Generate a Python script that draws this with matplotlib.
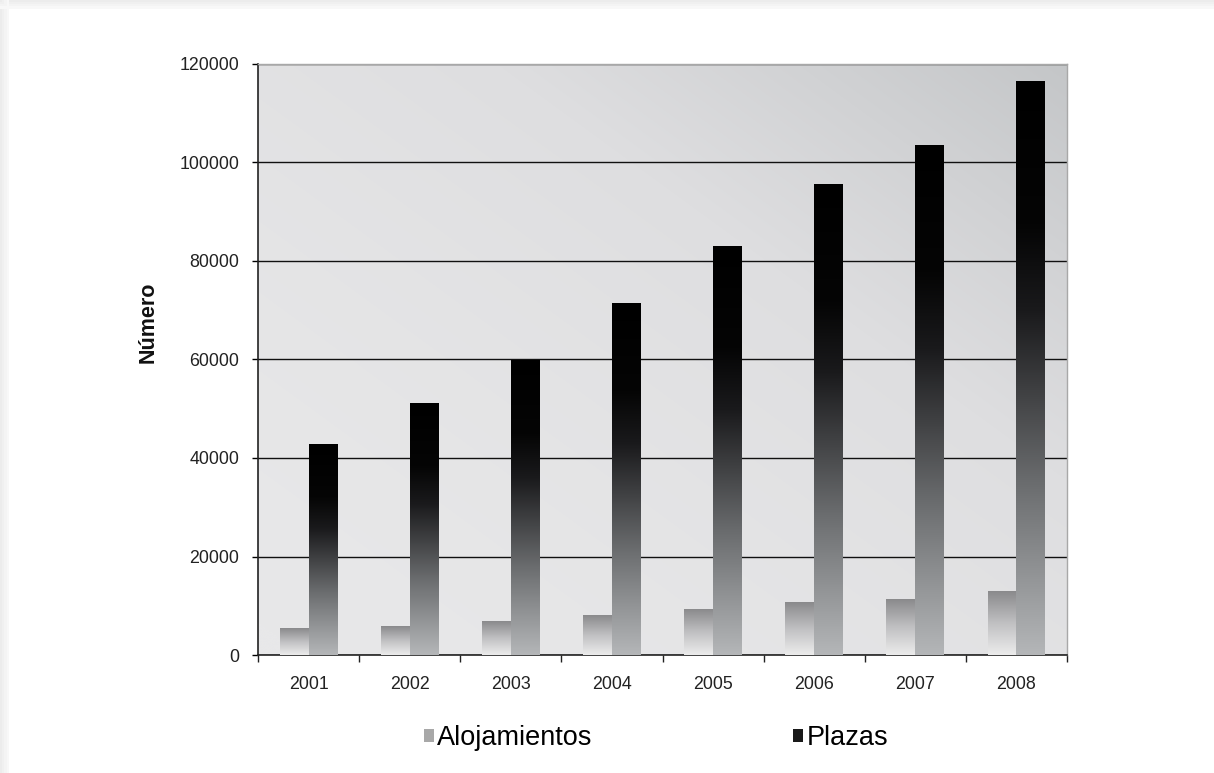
import numpy as np
import matplotlib
matplotlib.use("Agg")
import matplotlib.pyplot as plt
from matplotlib.colors import LinearSegmentedColormap
from matplotlib.patches import Rectangle
from matplotlib.ticker import FixedLocator

plt.rcParams['font.family'] = ['Liberation Sans', 'DejaVu Sans']

years = ['2001', '2002', '2003', '2004', '2005', '2006', '2007', '2008']
alojamientos = [5300, 5750, 6800, 8000, 9300, 10700, 11200, 12800]
plazas = [42800, 51000, 59700, 71400, 83000, 95600, 103400, 116500]
yticks = [0, 20000, 40000, 60000, 80000, 100000, 120000]

fig = plt.figure(figsize=(12.14, 7.73), dpi=100)
fig.patch.set_facecolor('white')
# subtle shadow frame
for i, c in enumerate(['#ececec', '#f0f0f0', '#f4f4f4', '#f8f8f8']):
    fig.patches.append(Rectangle((0, 1 - (i + 1) * 0.0028), 1, 0.0028, transform=fig.transFigure,
                                 facecolor=c, edgecolor='none', zorder=0))
    fig.patches.append(Rectangle((i * 0.0018, 0), 0.0018, 1, transform=fig.transFigure,
                                 facecolor=c, edgecolor='none', zorder=0))

ax = fig.add_axes([258/1214, 1-655/773, (1067-258)/1214, (655-64)/773])

# background gradient
xx, yy = np.meshgrid(np.linspace(0, 1, 200), np.linspace(0, 1, 200))
bgval = (0.5 * xx + 0.5 * yy) ** 1.6
bg_cmap = LinearSegmentedColormap.from_list('bg', ['#e8e8e9', '#dedee0', '#c4c6c8'])
ax.imshow(bgval, cmap=bg_cmap, extent=[0, 1, 0, 1], origin='lower',
          transform=ax.transAxes, aspect='auto', zorder=0, interpolation='bicubic')

x = np.arange(len(years))
w = 0.285
b1 = ax.bar(x - w/2, alojamientos, width=w, facecolor='none', edgecolor='none', zorder=3)
b2 = ax.bar(x + w/2, plazas, width=w, facecolor='none', edgecolor='none', zorder=3)

cm_aloj = LinearSegmentedColormap.from_list('al', ['#ececec', '#c0c0c2', '#8a8a8c'])
cm_plaz = LinearSegmentedColormap.from_list('pl', [(0, '#b4b6b8'), (0.3, '#6a6c6e'),
                                                   (0.6, '#1a1a1c'), (0.75, '#050505'), (1, '#000000')])
grad = np.linspace(0, 1, 256).reshape(-1, 1)
for bars, cm in ((b1, cm_aloj), (b2, cm_plaz)):
    for p in bars:
        x0, y0 = p.get_x(), p.get_y()
        ax.imshow(grad, cmap=cm, origin='lower', aspect='auto',
                  extent=[x0, x0 + p.get_width(), y0, y0 + p.get_height()], zorder=3)

ax.set_xlim(-0.5, len(years) - 0.5)
ax.set_ylim(0, 120000)
ax.set_yticks(yticks)
ax.set_yticklabels([str(v) for v in yticks])
ax.yaxis.grid(True, color='#101010', linewidth=1.0, zorder=1)
ax.set_axisbelow(True)
ax.set_xticks(x)
ax.set_xticklabels(years)
ax.xaxis.set_minor_locator(FixedLocator(np.arange(-0.5, len(years), 1.0)))
ax.tick_params(axis='x', which='major', length=0, pad=15, labelsize=12.8, labelcolor='#222222')
ax.tick_params(axis='x', which='minor', length=5, direction='out', width=1, color='#222222')
ax.tick_params(axis='y', length=4, direction='out', width=1, labelsize=12.8,
               labelcolor='#222222', pad=9.5)
for s in ('left', 'bottom'):
    ax.spines[s].set_color('#222222')
    ax.spines[s].set_linewidth(1.2)
for s in ('top', 'right'):
    ax.spines[s].set_color('#a8a8a8')
    ax.spines[s].set_linewidth(1.0)

fig.text(148/1214, 1-322/773, 'Número', rotation=90, ha='center', va='center',
         fontsize=15.5, fontweight='bold', color='#111111')

handles = [Rectangle((0, 0), 1, 1, facecolor='#a8a8a8', edgecolor='none'),
           Rectangle((0, 0), 1, 1, facecolor='#1a1a1a', edgecolor='none')]
fig.legend(handles, ['Alojamientos', 'Plazas'], loc='center', ncol=2,
           bbox_to_anchor=(656/1214, 1-738/773), frameon=False, fontsize=19.5,
           handlelength=0.38, handleheight=0.38, handletextpad=0.12, columnspacing=7.4)

fig.savefig('out.png', dpi=100, facecolor=fig.get_facecolor())
